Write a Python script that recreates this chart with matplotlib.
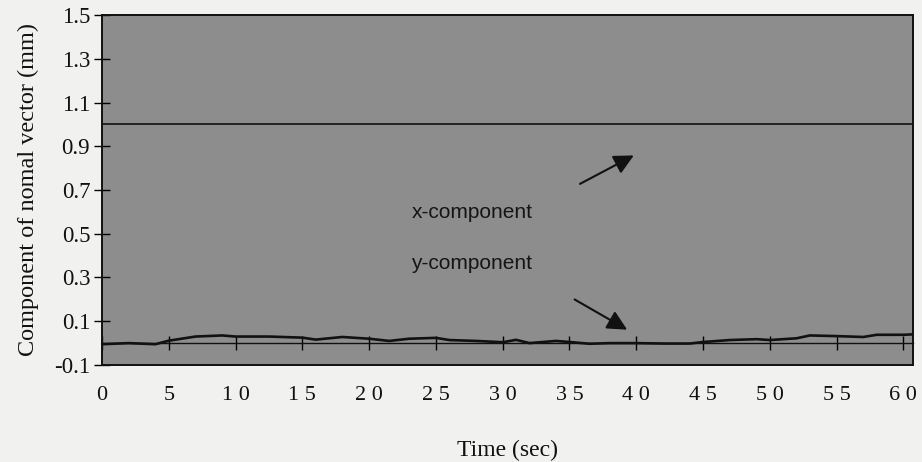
import matplotlib.pyplot as plt
import numpy as np

# 数据
t = [0, 2, 4, 5, 7, 9, 10, 12.5, 15, 16, 18, 20, 21.5, 23, 25, 26, 28, 30,
     31, 32, 34, 35, 36.5, 38, 40, 42, 44, 45, 47, 49, 50, 52, 53, 55, 57,
     58, 60, 60.7]
y_comp = [-0.005, 0.0, -0.005, 0.011, 0.03, 0.035, 0.03, 0.03, 0.025, 0.016,
          0.028, 0.02, 0.01, 0.02, 0.024, 0.014, 0.01, 0.004,
          0.015, 0.0, 0.01, 0.005, -0.003, 0.0, 0.0, -0.002, -0.002, 0.005,
          0.014, 0.018, 0.014, 0.022, 0.035, 0.032, 0.028,
          0.038, 0.038, 0.04]
x_comp = [1.0, 1.0]
x_comp_t = [0, 60.7]

x_ticks = [0, 5, 10, 15, 20, 25, 30, 35, 40, 45, 50, 55, 60]
x_ticklabels = ['0', '5', '1 0', '1 5', '2 0', '2 5', '3 0', '3 5', '4 0',
                '4 5', '5 0', '5 5', '6 0']
y_ticks = [-0.1, 0.1, 0.3, 0.5, 0.7, 0.9, 1.1, 1.3, 1.5]
y_ticklabels = ['-0.1', '0.1', '0.3', '0.5', '0.7', '0.9', '1.1', '1.3', '1.5']

serif = 'Liberation Serif'
sans = 'Liberation Sans'
ink = '#111111'

fig = plt.figure(figsize=(9.22, 4.62), dpi=100, facecolor='#f1f1ef')
ax = fig.add_axes([0.1106, 0.21, 0.8794, 0.7575])
ax.set_facecolor('#8d8d8d')

ax.plot(x_comp_t, x_comp, color=ink, lw=1.2)
ax.plot(t, y_comp, color=ink, lw=1.9)

ax.set_xlim(0, 60.7)
ax.set_ylim(-0.1, 1.5)

# y 轴
ax.set_yticks(y_ticks)
ax.set_yticklabels(y_ticklabels, fontfamily=serif, fontsize=16.5, color=ink)
ax.tick_params(axis='y', direction='inout', length=11, width=1.0, pad=3)

# x 轴标签在框下面，刻度画在 y=0 上
ax.set_xticks(x_ticks)
ax.set_xticklabels(x_ticklabels, fontfamily=serif, fontsize=16, color=ink)
ax.tick_params(axis='x', length=0, pad=15)

zero_axis = ax.secondary_xaxis(0.1 / 1.6)
zero_axis.set_xticks(x_ticks)
zero_axis.tick_params(axis='x', direction='inout', length=10, width=1.0,
                      labelbottom=False)
zero_axis.spines['bottom'].set_linewidth(1.0)
zero_axis.spines['bottom'].set_color(ink)

for s in ax.spines.values():
    s.set_linewidth(1.4)
    s.set_color(ink)

ax.set_ylabel('Component of nomal vector (mm)', fontfamily=serif,
              fontsize=17.5, labelpad=11, color=ink)
ax.set_xlabel('Time (sec)', fontfamily=serif, fontsize=17, labelpad=25,
              color=ink)

# 标注
ax.text(27.7, 0.599, 'x-component', fontfamily=sans, fontsize=15,
        ha='center', va='center', color='#151515')
ax.text(27.7, 0.366, 'y-component', fontfamily=sans, fontsize=15,
        ha='center', va='center', color='#151515')
arrow = dict(arrowstyle='-|>,head_length=0.5,head_width=0.25', color=ink,
             lw=1.5, mutation_scale=24)
ax.annotate('', xy=(40.0, 0.864), xytext=(35.6, 0.722), arrowprops=arrow)
ax.annotate('', xy=(39.5, 0.055), xytext=(35.2, 0.206), arrowprops=arrow)

fig.savefig('out.png', dpi=100, facecolor=fig.get_facecolor())
